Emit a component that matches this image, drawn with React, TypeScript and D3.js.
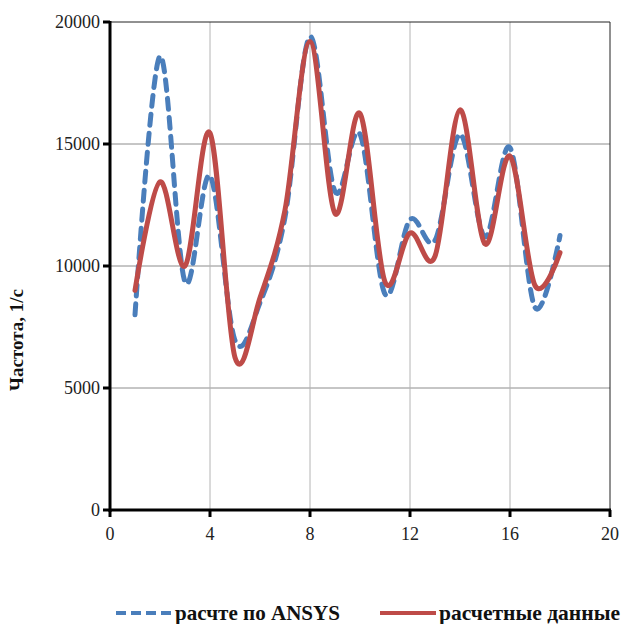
import React from 'react';
import { scaleLinear, line, curveCardinal } from 'd3';

const svgWidth = 628;
const svgHeight = 624;

const plotLeft = 110;
const plotRight = 610;
const plotTop = 22;
const plotBottom = 510;

const xPoints = [1, 2, 3, 4, 5, 6, 7, 8, 9, 10, 11, 12, 13, 14, 15, 16, 17, 18];
const ansysValues = [8000, 18600, 9350, 13700, 6950, 8500, 12000, 19400, 13050, 15400, 8850, 11900, 11050, 15400, 11200, 14850, 8300, 11250];
const calcValues = [9000, 13450, 10000, 15450, 6250, 8700, 12300, 19200, 12150, 16250, 9350, 11350, 10400, 16400, 10900, 14500, 9200, 10550];

const xTicks = [0, 4, 8, 12, 16, 20];
const yTicks = [0, 5000, 10000, 15000, 20000];

const seriesNames = ['расчте по ANSYS', 'расчетные данные'];
const blue = '#4a7ebb';
const red = '#be4b48';

const font = 'Liberation Serif, DejaVu Serif, serif';

const xScale = scaleLinear().domain([0, 20]).range([plotLeft, plotRight]);
const yScale = scaleLinear().domain([0, 20000]).range([plotBottom, plotTop]);

function App() {
  const makeLine = line<number>()
    .x((d, i) => xScale(xPoints[i]))
    .y((d) => yScale(d))
    .curve(curveCardinal.tension(0));

  const txt = { fontFamily: font };

  return (
    <svg
      width={svgWidth}
      height={svgHeight}
      style={{ position: 'absolute', left: 0, top: 0, background: '#fff', fontFamily: font }}
    >
      {/* grid */}
      {yTicks.slice(1, -1).map((t) => (
        <line key={'gy' + t} x1={plotLeft} x2={plotRight} y1={yScale(t)} y2={yScale(t)} stroke="#8c8c8c" strokeWidth={1} />
      ))}
      {xTicks.slice(1, -1).map((t) => (
        <line key={'gx' + t} x1={xScale(t)} x2={xScale(t)} y1={plotTop} y2={plotBottom} stroke="#b4b4b4" strokeWidth={1} />
      ))}
      {/* frame top / right */}
      <line x1={plotLeft} x2={plotRight} y1={plotTop} y2={plotTop} stroke="#222" strokeWidth={1} />
      <line x1={plotRight} x2={plotRight} y1={plotTop} y2={plotBottom} stroke="#222" strokeWidth={1} />

      {/* series */}
      <path d={makeLine(ansysValues) || ''} fill="none" stroke={blue} strokeWidth={5} strokeDasharray="11,8" strokeLinecap="round" />
      <path d={makeLine(calcValues) || ''} fill="none" stroke={red} strokeWidth={5} strokeLinecap="round" />

      {/* axes */}
      <line x1={plotLeft} x2={plotLeft} y1={plotTop - 1} y2={plotBottom + 2} stroke="#000" strokeWidth={3} />
      <line x1={plotLeft - 1} x2={plotRight + 1} y1={plotBottom} y2={plotBottom} stroke="#000" strokeWidth={3} />
      {yTicks.map((t) => (
        <g key={'yt' + t}>
          <line x1={plotLeft - 7} x2={plotLeft} y1={yScale(t)} y2={yScale(t)} stroke="#000" strokeWidth={3} />
          <text x={plotLeft - 10} y={yScale(t)} dy="0.35em" textAnchor="end" fontSize={18} fill="#222" style={txt}>
            {t}
          </text>
        </g>
      ))}
      {xTicks.map((t) => (
        <g key={'xt' + t}>
          <line x1={xScale(t)} x2={xScale(t)} y1={plotBottom} y2={plotBottom + 7} stroke="#000" strokeWidth={3} />
          <text x={xScale(t)} y={plotBottom + 30} textAnchor="middle" fontSize={18} fill="#222" style={txt}>
            {t}
          </text>
        </g>
      ))}

      <text
        transform={`translate(23, 340) rotate(-90)`}
        textAnchor="middle"
        fontSize={19}
        fontWeight="bold"
        fill="#111"
        style={txt}
      >
        Частота, 1/с
      </text>

      {/* legend */}
      <line x1={116} x2={172} y1={613} y2={613} stroke={blue} strokeWidth={4} strokeDasharray="10,5" />
      <text x={175} y={620} fontSize={21} fontWeight="bold" fill="#111" style={txt} textLength={165} lengthAdjust="spacingAndGlyphs">
        {seriesNames[0]}
      </text>
      <line x1={380} x2={436} y1={613} y2={613} stroke={red} strokeWidth={4} />
      <text x={439} y={620} fontSize={21} fontWeight="bold" fill="#111" style={txt} textLength={181} lengthAdjust="spacingAndGlyphs">
        {seriesNames[1]}
      </text>
    </svg>
  );
}

export default App;
